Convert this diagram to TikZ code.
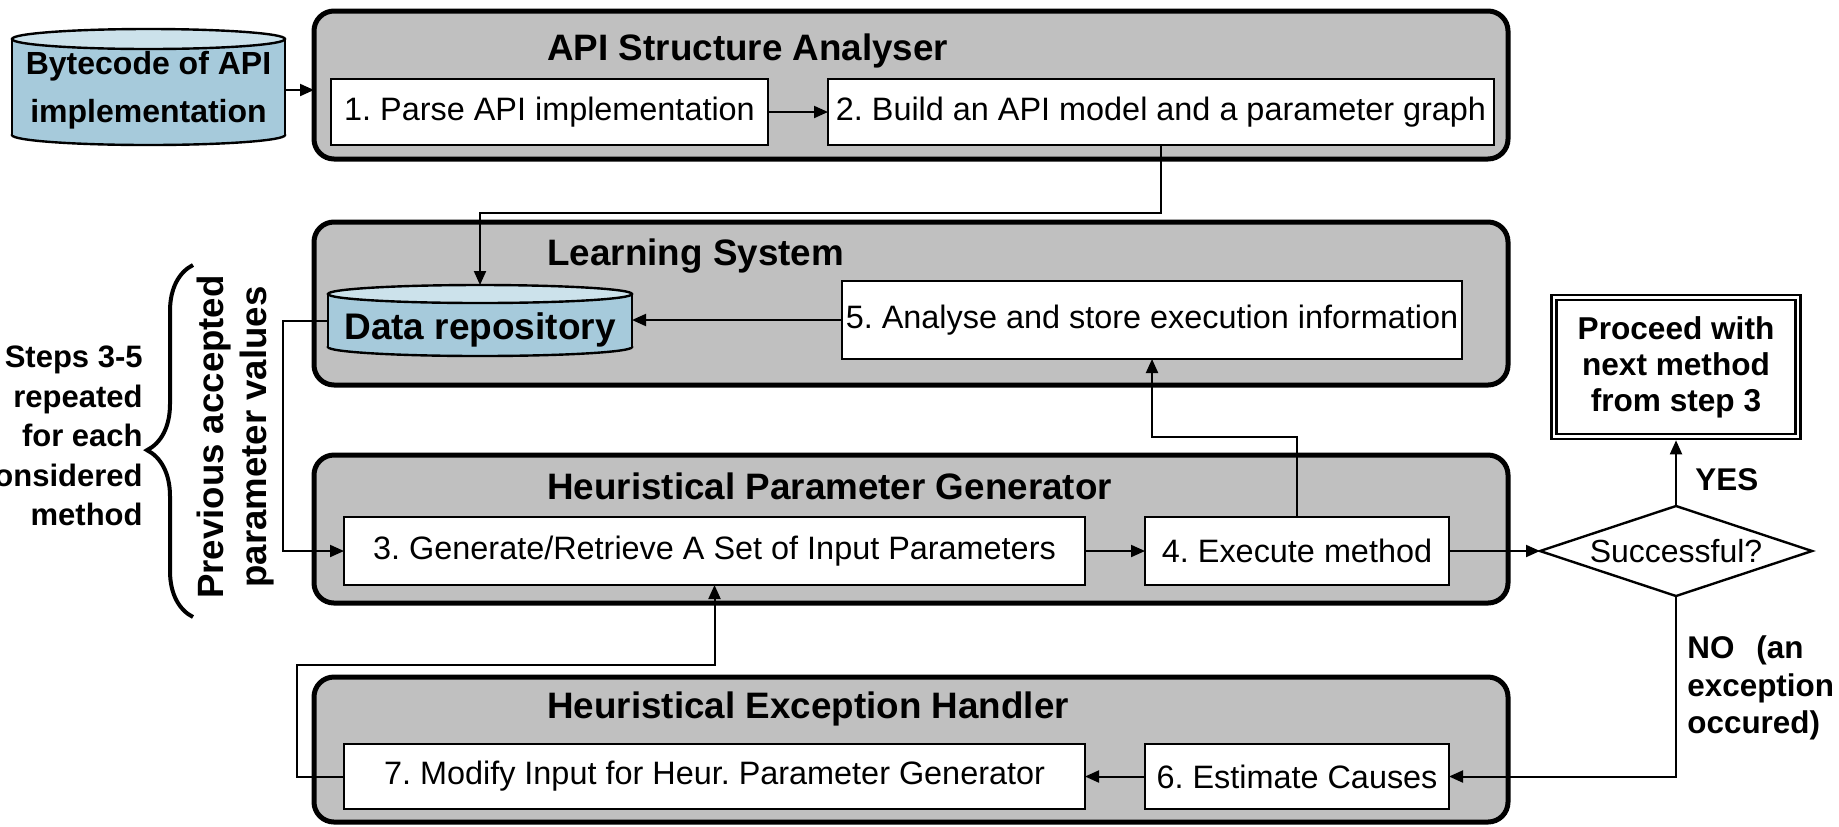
\documentclass[tikz,border=0pt]{standalone}
\usepackage{fontspec}
\setmainfont{Liberation Sans}
\usetikzlibrary{arrows.meta,decorations.pathreplacing,shapes.geometric}
\definecolor{grp}{RGB}{192,192,192}
\definecolor{cylbody}{RGB}{166,202,219}
\definecolor{cyltop}{RGB}{204,226,235}
\newcommand\placebox[7]{\node[#6, minimum width={(#4-#2)*0.5pt}, minimum height={(#5-#3)*0.5pt}] (#1) at ({(#2+#4)/2},{(#3+#5)/2}) {#7};}
\frenchspacing
\begin{document}
\begin{tikzpicture}[x=0.5pt,y=-0.5pt,
 grpbox/.style={draw, line width=2.5pt, fill=grp, rounded corners=10pt, inner sep=0pt, outer sep=0pt},
 stepbox/.style={draw, line width=1.2pt, fill=white, inner sep=0pt, outer sep=0pt, font=\fontsize{16.2}{19}\selectfont},
 grptitle/.style={anchor=west, inner sep=0pt, font=\bfseries\fontsize{18.4}{22}\selectfont},
 arr/.style={line width=1pt, -{Triangle[length=7pt,width=6pt]}},
 boldlbl/.style={inner sep=0pt, font=\bfseries\fontsize{15.7}{18.75}\selectfont},
 cylline/.style={line width=1.2pt},
]
\useasboundingbox (0,0) rectangle (1839,826);

% group boxes
\placebox{api}{314}{11}{1508}{159}{grpbox}{}
\placebox{ls}{314}{222}{1508}{385}{grpbox}{}
\placebox{hpg}{314}{455}{1508}{603}{grpbox}{}
\placebox{heh}{314}{677}{1508}{822}{grpbox}{}

\node[grptitle] (t1) at (547,51) {API Structure Analyser};
\node[grptitle] (t2) at (547,256) {Learning System};
\node[grptitle] (t3) at (547,486) {Heuristical Parameter Generator};
\node[grptitle] (t4) at (547,709) {Heuristical Exception Handler};

% step boxes
\placebox{b1}{331}{79}{768}{145}{stepbox}{1. Parse API implementation}
\placebox{b2}{828}{79}{1494}{145}{stepbox}{2. Build an API model and a parameter graph}
\placebox{b5}{842}{281}{1462}{359}{stepbox}{5. Analyse and store execution information}
\placebox{b3}{344}{517}{1085}{585}{stepbox}{3. Generate/Retrieve A Set of Input Parameters}
\placebox{b4}{1145}{517}{1449}{585}{stepbox}{4. Execute method}
\placebox{b7}{344}{744}{1085}{809}{stepbox}{7. Modify Input for Heur. Parameter Generator}
\placebox{b6}{1145}{744}{1449}{809}{stepbox}{6. Estimate Causes}

% bytecode cylinder
\filldraw[fill=cylbody, cylline] (148.5,135) ellipse [x radius=136.5, y radius=10];
\fill[cylbody] (12,39) rectangle (285,135);
\draw[cylline] (12,39) -- (12,135) (285,39) -- (285,135);
\filldraw[fill=cyltop, cylline] (148.5,39) ellipse [x radius=136.5, y radius=10];
\node[inner sep=0pt, outer sep=0pt, minimum width=136.5pt, minimum height=59pt, align=center, font=\bfseries\fontsize{16}{24}\selectfont] (bc) at (148.5,90) {Bytecode of API\\implementation};

% data repository cylinder
\filldraw[fill=cylbody, cylline] (480,347) ellipse [x radius=152, y radius=9];
\fill[cylbody] (328,294) rectangle (632,347);
\draw[cylline] (328,294) -- (328,347) (632,294) -- (632,347);
\filldraw[fill=cyltop, cylline] (480,294) ellipse [x radius=152, y radius=9];
\node[inner sep=0pt, outer sep=0pt, minimum width=152pt, minimum height=35.5pt, text height=20.7pt, text depth=2pt, font=\bfseries\fontsize{18.5}{22}\selectfont] (dr) at (480,320.5) {Data repository};

% decision and end
\node[diamond, aspect=3, draw, line width=1.2pt, fill=white, minimum width=136pt, minimum height=45pt, inner sep=0pt, outer sep=0pt, font=\fontsize{16}{19}\selectfont] (dia) at (1676,551) {Successful?};
\node[draw, double, double distance=1.3pt, line width=1.2pt, fill=white, inner sep=0pt, outer sep=1.9pt, minimum width=122pt, minimum height=69.5pt, align=center, font=\bfseries\fontsize{15.8}{18}\selectfont] (pr) at (1676,367) {Proceed with\\next method\\from step 3};

\node[boldlbl, anchor=west] (yes) at (1695,480) {YES};
\node[boldlbl, anchor=west, align=left] (no) at (1687,688) {NO\hspace{0.7em}(an\\exception\\occured)};

% left annotations
\node[anchor=east, align=right, inner sep=0pt, font=\bfseries\fontsize{15.5}{19.75}\selectfont] (steps) at (143,436) {Steps 3-5\\repeated\\for each\\considered\\method};
\node[rotate=90, align=center, inner sep=0pt, font=\bfseries\fontsize{18.3}{21.5}\selectfont] (prev) at (236,437) {Previous accepted\\parameter values};
\draw[line width=2pt, decorate, decoration={brace, amplitude=23pt, aspect=0.474}] (193,617) -- (193,265);

% connectors
\draw[arr] (bc.east) -- (bc.east -| api.west);
\draw[arr] (b1.east) -- (b2.west);
\draw[arr] (b2.south) -- (b2.south |- 0,213) -| (dr.north);
\draw[arr] (b5.west) -- (b5.west -| dr.east);
\draw[arr] (dr.west) -- ++(-45,0) |- (b3.west);
\draw[arr] (b3.east) -- (b4.west);
\draw[arr] (b4.north) -- ++(0,-80) -| (b5.south);
\draw[arr] (b4.east) -- (dia.west);
\draw[arr] (dia.north) -- (pr.south);
\draw[arr] (dia.south) |- (b6.east);
\draw[arr] (b6.west) -- (b7.east);
\draw[arr] (b7.west) -- ++(-47,0) |- (b3.south |- 0,665) -- (b3.south);
\end{tikzpicture}
\end{document}
